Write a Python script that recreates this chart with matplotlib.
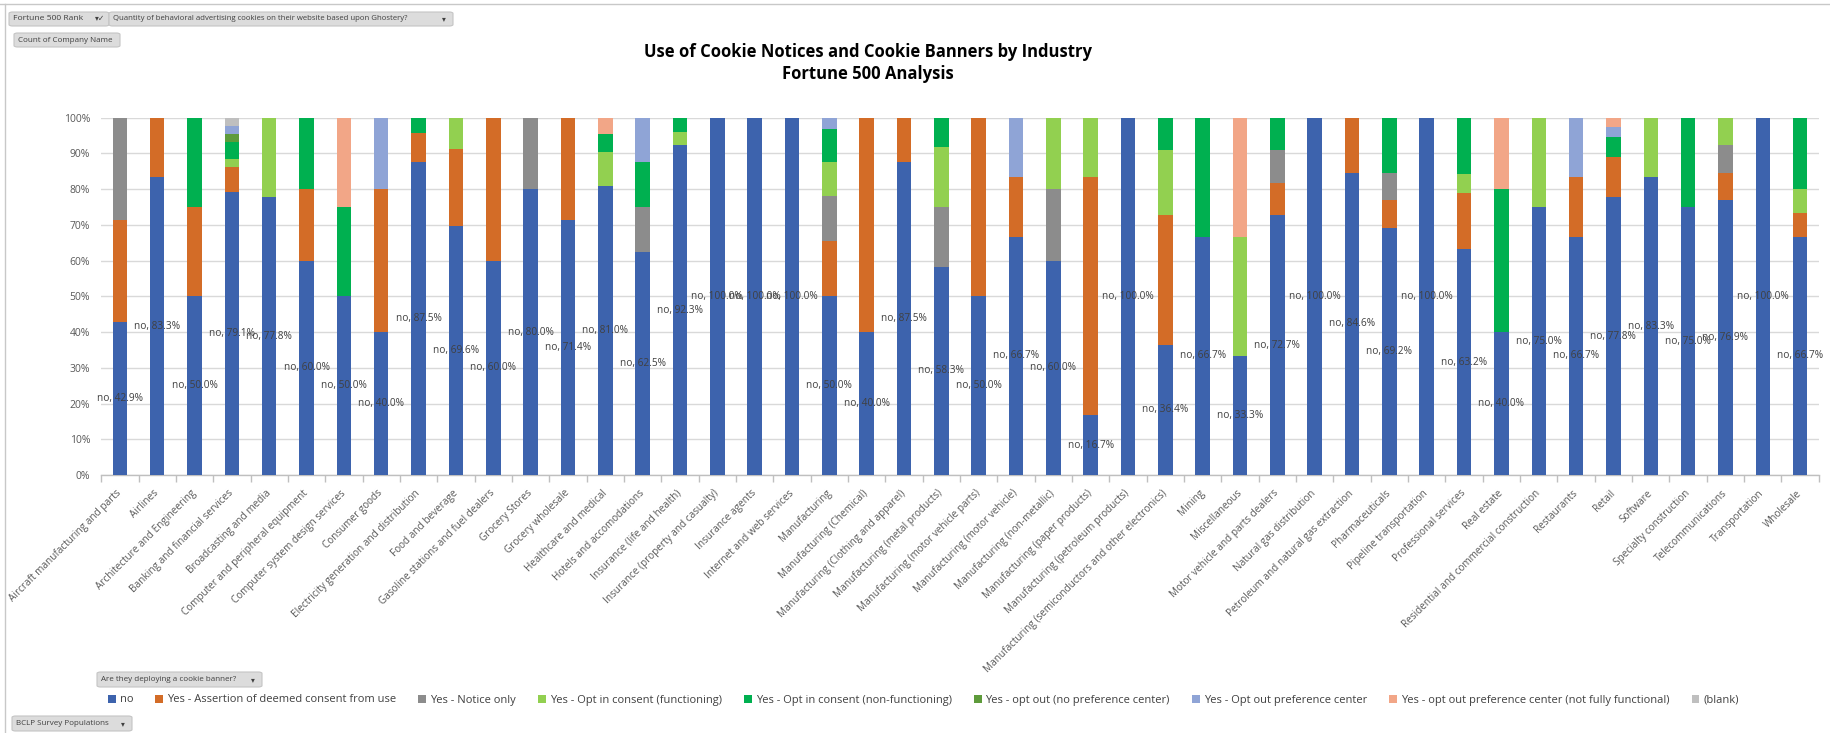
import numpy as np
import matplotlib
matplotlib.use("Agg")
import matplotlib.pyplot as plt
from matplotlib.patches import Patch, FancyBboxPatch
from matplotlib.lines import Line2D

plt.rcParams['font.family'] = ['Open Sans', 'DejaVu Sans']

categories = [
    "Aircraft manufacturing and parts", "Airlines", "Architecture and Engineering",
    "Banking and financial services", "Broadcasting and media",
    "Computer and peripheral equipment", "Computer system design services",
    "Consumer goods", "Electricity generation and distribution", "Food and beverage",
    "Gasoline stations and fuel dealers", "Grocery Stores", "Grocery wholesale",
    "Healthcare and medical", "Hotels and accomodations", "Insurance (life and health)",
    "Insurance (property and casualty)", "Insurance agents", "Internet and web services",
    "Manufacturing", "Manufacturing (Chemical)", "Manufacturing (Clothing and apparel)",
    "Manufacturing (metal products)", "Manufacturing (motor vehicle parts)",
    "Manufacturing (motor vehicle)", "Manufacturing (non-metallic)",
    "Manufacturing (paper products)", "Manufacturing (petroleum products)",
    "Manufacturing (semiconductors and other electronics)", "Mining", "Miscellaneous",
    "Motor vehicle and parts dealers", "Natural gas distribution",
    "Petroleum and natural gas extraction", "Pharmaceuticals", "Pipeline transportation",
    "Professional services", "Real estate", "Residential and commercial construction",
    "Restaurants", "Retail", "Software", "Specialty construction", "Telecommunications",
    "Transportation", "Wholesale",
]

series_names = [
    "no", "Yes - Assertion of deemed consent from use", "Yes - Notice only",
    "Yes - Opt in consent (functioning)", "Yes - Opt in consent (non-functioning)",
    "Yes - opt out (no preference center)", "Yes - Opt out preference center",
    "Yes - opt out preference center (not fully functional)", "(blank)",
]

no_vals = [42.9, 83.3, 50.0, 79.1, 77.8, 60.0, 50.0, 40.0, 87.5, 69.6,
           60.0, 80.0, 71.4, 81.0, 62.5, 92.3, 100.0, 100.0, 100.0, 50.0,
           40.0, 87.5, 58.3, 50.0, 66.7, 60.0, 16.7, 100.0, 36.4, 66.7,
           33.3, 72.7, 100.0, 84.6, 69.2, 100.0, 63.2, 40.0, 75.0, 66.7,
           77.8, 83.3, 75.0, 76.9, 100.0, 66.7]
assertion_vals = [28.6, 16.7, 25.0, 7.0, 0, 20.0, 0, 40.0, 8.3, 21.7,
                  40.0, 0, 28.6, 0, 0, 0, 0, 0, 0, 15.6,
                  60.0, 12.5, 0, 50.0, 16.7, 0, 66.7, 0, 36.4, 0,
                  0, 9.1, 0, 15.4, 7.7, 0, 15.8, 0, 0, 16.7,
                  11.1, 0, 0, 7.7, 0, 6.7]
notice_vals = [28.6, 0, 0, 0, 0, 0, 0, 0, 0, 0,
               0, 20.0, 0, 0, 12.5, 0, 0, 0, 0, 12.5,
               0, 0, 16.7, 0, 0, 20.0, 0, 0, 0, 0,
               0, 9.1, 0, 0, 7.7, 0, 0, 0, 0, 0,
               0, 0, 0, 7.7, 0, 0]
optin_func_vals = [0, 0, 0, 2.3, 22.2, 0, 0, 0, 0, 8.7,
                   0, 0, 0, 9.5, 0, 3.8, 0, 0, 0, 9.4,
                   0, 0, 16.7, 0, 0, 20.0, 16.7, 0, 18.2, 0,
                   33.3, 0, 0, 0, 0, 0, 5.3, 0, 25.0, 0,
                   0, 16.7, 0, 7.7, 0, 6.7]
optin_nonfunc_vals = [0, 0, 25.0, 4.7, 0, 20.0, 25.0, 0, 4.2, 0,
                      0, 0, 0, 4.8, 12.5, 3.9, 0, 0, 0, 9.4,
                      0, 0, 8.3, 0, 0, 0, 0, 0, 9.1, 33.3,
                      0, 9.1, 0, 0, 15.4, 0, 15.8, 40.0, 0, 0,
                      5.6, 0, 25.0, 0, 0, 20.0]
optout_nopref_vals = [0, 0, 0, 2.3, 0, 0, 0, 0, 0, 0,
                      0, 0, 0, 0, 0, 0, 0, 0, 0, 0,
                      0, 0, 0, 0, 0, 0, 0, 0, 0, 0,
                      0, 0, 0, 0, 0, 0, 0, 0, 0, 0,
                      0, 0, 0, 0, 0, 0]
optout_pref_vals = [0, 0, 0, 2.3, 0, 0, 0, 20.0, 0, 0,
                    0, 0, 0, 0, 12.5, 0, 0, 0, 0, 3.1,
                    0, 0, 0, 0, 16.7, 0, 0, 0, 0, 0,
                    0, 0, 0, 0, 0, 0, 0, 0, 0, 16.7,
                    2.8, 0, 0, 0, 0, 0]
optout_notfull_vals = [0, 0, 0, 0, 0, 0, 25.0, 0, 0, 0,
                       0, 0, 0, 4.8, 0, 0, 0, 0, 0, 0,
                       0, 0, 0, 0, 0, 0, 0, 0, 0, 0,
                       33.4, 0, 0, 0, 0, 0, 0, 20.0, 0, 0,
                       2.8, 0, 0, 0, 0, 0]
blank_vals = [0, 0, 0, 2.3, 0, 0, 0, 0, 0, 0,
              0, 0, 0, 0, 0, 0, 0, 0, 0, 0,
              0, 0, 0, 0, 0, 0, 0, 0, 0, 0,
              0, 0, 0, 0, 0, 0, 0, 0, 0, 0,
              0, 0, 0, 0, 0, 0]

series_values = [no_vals, assertion_vals, notice_vals, optin_func_vals,
                 optin_nonfunc_vals, optout_nopref_vals, optout_pref_vals,
                 optout_notfull_vals, blank_vals]
colors = ['#3D63AD', '#D36C27', '#8C8C8C', '#92D050', '#00B050',
          '#5E9B3B', '#8FA4D6', '#F2A687', '#BFBFBF']

W, H = 1831, 733
fig = plt.figure(figsize=(W / 100, H / 100), dpi=100)
left, right, top, bottom = 101.3, 1818.7, 117.7, 475.0
ax = fig.add_axes([left / W, 1 - bottom / H, (right - left) / W, (bottom - top) / H])

x = np.arange(len(categories))
base = np.zeros(len(categories))
for name, vals, col in zip(series_names, series_values, colors):
    v = np.array(vals, dtype=float)
    ax.bar(x, v, 0.385, bottom=base, color=col, label=name, zorder=3)
    base += v

for i, v in enumerate(no_vals):
    ax.text(i, v / 2, f"no, {v:.1f}%", ha='center', va='center',
            fontsize=7.3, color='#404040', zorder=4)

ax.set_xlim(-0.5, len(categories) - 0.5)
ax.set_ylim(0, 100)
ax.set_yticks(np.arange(0, 101, 10))
ax.set_yticklabels([f"{t}%" for t in range(0, 101, 10)], fontsize=7.5, color='#595959')
ax.yaxis.grid(True, color='#D9D9D9', linewidth=1.0, zorder=0)
ax.tick_params(axis='y', length=0, pad=8)
for s in ['top', 'right', 'left']:
    ax.spines[s].set_visible(False)
ax.spines['bottom'].set_color('#BFBFBF')
ax.spines['bottom'].set_linewidth(1.0)

ax.set_xticks(x)
ax.set_xticklabels(categories, rotation=45, ha='right', va='center',
                   rotation_mode='anchor', fontsize=7.2, color='#595959')
ax.tick_params(axis='x', which='major', length=0, pad=12)
ax.set_xticks(np.arange(-0.5, len(categories), 1), minor=True)
ax.tick_params(axis='x', which='minor', length=5, color='#BFBFBF', width=1)

fig.text(868 / W, 1 - 52 / H, "Use of Cookie Notices and Cookie Banners by Industry",
         ha='center', va='center', fontsize=12, fontweight='bold', color='black')
fig.text(868 / W, 1 - 74 / H, "Fortune 500 Analysis",
         ha='center', va='center', fontsize=12, fontweight='bold', color='black')

handles = [Patch(facecolor=c, edgecolor='none') for c in colors]
fig.legend(handles, series_names, loc='center left',
           bbox_to_anchor=(108 / W, 1 - 700 / H), ncol=9, frameon=False,
           fontsize=8.0, handlelength=0.7, handleheight=0.7, handletextpad=0.35,
           columnspacing=2.0, labelcolor='#404040', borderaxespad=0, borderpad=0)


def button(x0, y0, x1, y1, label, icon="\u25be", fs=5.8):
    p = FancyBboxPatch((x0 / W, 1 - y1 / H), (x1 - x0) / W, (y1 - y0) / H,
                       boxstyle="round,pad=0,rounding_size=0.002",
                       transform=fig.transFigure, facecolor='#DCDCDC',
                       edgecolor='#C4C4C4', linewidth=0.8)
    fig.patches.append(p)
    fig.text((x0 + 4) / W, 1 - (y0 + y1) / 2 / H, label, ha='left', va='center',
             fontsize=fs, color='#404040', family=['Liberation Sans Narrow', 'Open Sans', 'DejaVu Sans'])
    if icon:
        fig.text((x1 - 9) / W, 1 - (y0 + y1) / 2 / H, icon, ha='center', va='center',
                 fontsize=5.5, color='#404040', family='DejaVu Sans')


button(9, 12, 109, 26, "Fortune 500 Rank", icon="\u25be\u2713", fs=6.1)
button(109, 12, 453, 26, "Quantity of behavioral advertising cookies on their website based upon Ghostery?", fs=5.6)
button(14, 33, 120, 47, "Count of Company Name", icon=None)
button(97, 672, 262, 687, "Are they deploying a cookie banner?")
button(12, 716, 132, 731, "BCLP Survey Populations")

fig.lines.append(Line2D([0, 1], [1 - 4 / H, 1 - 4 / H], transform=fig.transFigure,
                        color='#C8C8C8', linewidth=1))
fig.lines.append(Line2D([5 / W, 5 / W], [0, 1 - 4 / H], transform=fig.transFigure,
                        color='#C8C8C8', linewidth=1))

fig.savefig("out.png", dpi=100)
